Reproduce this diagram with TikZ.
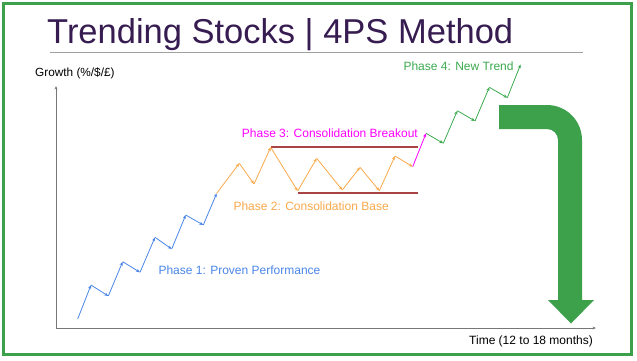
\documentclass[tikz,border=0pt]{standalone}
\usepackage{fontspec}
\setmainfont{Liberation Sans}
\usetikzlibrary{arrows.meta}
\definecolor{frameg}{HTML}{3DA14C}
\definecolor{titlec}{HTML}{361C50}
\definecolor{blueL}{HTML}{4A86E8}
\definecolor{orangeL}{HTML}{F9A94B}
\definecolor{magL}{HTML}{FF00FF}
\definecolor{greenL}{HTML}{3DAA50}
\definecolor{brownL}{HTML}{A94444}
\definecolor{axisc}{HTML}{777777}
\tikzset{
  lbl/.style={inner sep=0pt, font=\fontsize{12}{14}\selectfont},
  seg/.style={line width=0.8pt, -{Stealth[length=4pt,width=3.2pt]}},
  axisline/.style={draw=axisc, line width=0.9pt, -{Stealth[length=3.5pt,width=2.8pt]}},
  levelline/.style={draw=brownL, line width=2pt},
}
\begin{document}
\begin{tikzpicture}[x=1pt,y=-1pt]
\useasboundingbox (0,0) rectangle (637,360);
\fill[white] (0,0) rectangle (637,360);
% frame
\draw[frameg, line width=3pt] (3.5,3.5) rectangle (631.5,354.5);
% title
\node[anchor=base west, inner sep=0pt, text=titlec, font=\fontsize{34.5}{40}\selectfont] (title) at (47,43) {Trending Stocks | 4PS Method};
\coordinate (rl) at (50,52);
\coordinate (rr) at (583,52);
\draw[axisc!70, line width=1pt] (rl) -- (rr);
% axes
\coordinate (O) at (56,328);
\coordinate (Yt) at (56,86);
\coordinate (Xe) at (596,328);
\draw[axisline] (O) -- (Yt);
\draw[axisline] (O) -- (Xe);
\node[lbl, anchor=west, font=\fontsize{11.8}{14}\selectfont] (ylab) at (35,73) {Growth (\%/\$/£)};
\node[lbl, anchor=east] (xlab) at (593,341.7) {Time (12 to 18 months)};
% zigzag points
\coordinate (p0) at (77.7,319);
\coordinate (p1) at (91,285);
\coordinate (p2) at (108.3,296);
\coordinate (p3) at (122.7,261.7);
\coordinate (p4) at (140,272.3);
\coordinate (p5) at (155,237.3);
\coordinate (p6) at (171.7,249);
\coordinate (p7) at (185.7,215);
\coordinate (p8) at (203.3,225);
\coordinate (p9) at (216.7,193.3);
\coordinate (p10) at (239.3,163.3);
\coordinate (p11) at (254,184);
\coordinate (p12) at (270.7,147.3);
\coordinate (p13) at (297.7,191);
\coordinate (p14) at (316.7,158.3);
\coordinate (p15) at (342.3,190);
\coordinate (p16) at (360,167.3);
\coordinate (p17) at (379.3,190.7);
\coordinate (p18) at (395,156);
\coordinate (p19) at (412.7,166.7);
\coordinate (p20) at (426,133.3);
\coordinate (p21) at (443.3,143.3);
\coordinate (p22) at (457.3,110.7);
\coordinate (p23) at (475,121);
\coordinate (p24) at (489.3,87.3);
\coordinate (p25) at (507.3,97.7);
\coordinate (p26) at (520.7,64.3);
% consolidation levels
\coordinate (tl) at (270.7,146.7);
\coordinate (tr) at (418.3,146.7);
\coordinate (bl) at (298,193.3);
\coordinate (br) at (418.3,193.3);
\draw[levelline] (tl) -- (tr);
\draw[levelline] (bl) -- (br);
% phase 1
\foreach \a/\b in {0/1,1/2,2/3,3/4,4/5,5/6,6/7,7/8,8/9}
  \draw[seg, blueL] (p\a) -- (p\b);
% phase 2
\foreach \a/\b in {9/10,10/11,11/12,12/13,13/14,14/15,15/16,16/17,17/18,18/19}
  \draw[seg, orangeL] (p\a) -- (p\b);
% phase 3
\draw[seg, magL] (p19) -- (p20);
% phase 4
\foreach \a/\b in {20/21,21/22,22/23,23/24,24/25,25/26}
  \draw[seg, greenL] (p\a) -- (p\b);
% labels
\node[lbl, anchor=west, text=blueL] (ph1) at (158.3,270.7) {Phase 1: Proven Performance};
\node[lbl, anchor=west, text=orangeL] (ph2) at (233.3,206.7) {Phase 2: Consolidation Base};
\node[lbl, anchor=west, text=magL] (ph3) at (241.7,133.3) {Phase 3: Consolidation Breakout};
\node[lbl, anchor=west, text=greenL] (ph4) at (403.3,66.7) {Phase 4: New Trend};
% big bent arrow
\fill[frameg] (499,105) -- (547,105) arc[start angle=90,end angle=0,radius=35pt]
  -- (582,300) -- (594,300) -- (571,323.5) -- (548,300) -- (558,300)
  -- (558,140) arc[start angle=0,end angle=90,radius=11pt]
  -- (499,129) -- cycle;
\end{tikzpicture}
\end{document}
